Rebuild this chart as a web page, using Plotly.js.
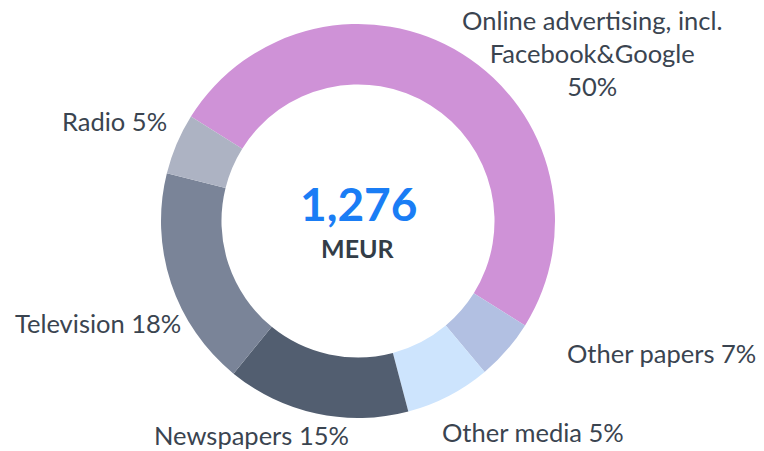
<!DOCTYPE html>
<html>
<head>
<meta charset="utf-8">
<script src="https://cdn.plot.ly/plotly-3.0.1.min.js"></script>
<style>
  html, body { margin: 0; padding: 0; background: #ffffff; }
  #chart { width: 764px; height: 451px; }
</style>
</head>
<body>
<div id="chart"></div>
<script>
// ---- data ----
const categories = ["Online advertising, incl. Facebook&Google", "Other papers", "Other media", "Newspapers", "Television", "Radio"];
const shares = [50, 5, 7, 15, 18, 5];           // slice sizes
const shareLabels = ["50%", "7%", "5%", "15%", "18%", "5%"]; // percentages as printed
const sliceColors = ["#cf92d7", "#b2c0e2", "#cde4fd", "#525e70", "#7a8498", "#adb3c3"];
const totalValue = "1,276";
const totalUnit = "MEUR";

// ---- layout helpers ----
const W = 764, H = 451;
const px = x => x / W;
const py = y => 1 - y / H;

const cx = 358, cy = 221, R = 197;

const labelText = [
  "Online advertising, incl.<br>Facebook&Google<br>" + shareLabels[0],
  categories[1] + " " + shareLabels[1],
  categories[2] + " " + shareLabels[2],
  categories[3] + " " + shareLabels[3],
  categories[4] + " " + shareLabels[4],
  categories[5] + " " + shareLabels[5]
];
// label placement (pixels): [x, y, xanchor]
const labelPos = [
  [592, 53, "center"],
  [565, 353, "left"],
  [440, 432, "left"],
  [152, 435, "left"],
  [13, 323, "left"],
  [60, 121, "left"]
];

const labelFont = { family: "Lato, 'Open Sans', sans-serif", size: 25.5, color: "#3a4450" };

const annotations = labelText.map((t, i) => ({
  text: t,
  x: px(labelPos[i][0]), y: py(labelPos[i][1]),
  xref: "paper", yref: "paper",
  xanchor: labelPos[i][2], yanchor: "middle",
  align: "center",
  showarrow: false,
  font: labelFont
}));

annotations.push({
  text: "<b>" + totalValue + "</b>",
  x: px(cx), y: py(203), xref: "paper", yref: "paper",
  xanchor: "center", yanchor: "middle", showarrow: false,
  font: { family: "Lato, sans-serif", size: 46, color: "#1a7df5" }
});
annotations.push({
  text: "<b>" + totalUnit + "</b>",
  x: px(cx), y: py(248), xref: "paper", yref: "paper",
  xanchor: "center", yanchor: "middle", showarrow: false,
  font: { family: "Lato, sans-serif", size: 25, color: "#333d47" }
});

const trace = {
  type: "pie",
  labels: categories,
  values: shares,
  sort: false,
  direction: "clockwise",
  rotation: -58,
  hole: 0.693,
  textinfo: "none",
  hoverinfo: "label+percent",
  marker: { colors: sliceColors, line: { color: "#ffffff", width: 0 } },
  domain: {
    x: [(cx - R) / W, (cx + R) / W],
    y: [1 - (cy + R) / H, 1 - (cy - R) / H]
  },
  showlegend: false
};

const layout = {
  width: W, height: H,
  margin: { l: 0, r: 0, t: 0, b: 0 },
  paper_bgcolor: "#ffffff",
  showlegend: false,
  annotations: annotations
};

Plotly.newPlot("chart", [trace], layout, { displayModeBar: false, staticPlot: true });
</script>
</body>
</html>
